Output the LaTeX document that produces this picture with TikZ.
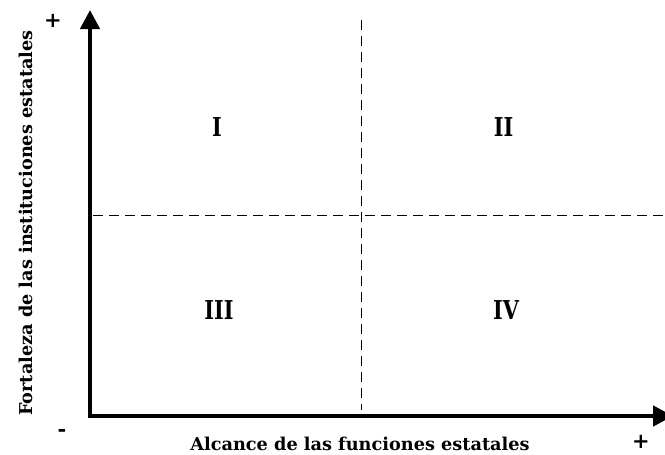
\documentclass[tikz,border=0pt]{standalone}
\usepackage{fontspec}
\setmainfont{DejaVu Serif}
\usetikzlibrary{arrows.meta}
\newcommand{\rmnum}[1]{\scalebox{0.8}[1]{#1}}
\begin{document}
\begin{tikzpicture}[x=1pt,y=-1pt,
  axis/.style={line width=4.4pt,line join=miter,{Triangle[length=19pt,width=19pt]}-{Triangle[length=20pt,width=20pt]}},
  guide/.style={line width=0.9pt,dash pattern=on 10pt off 6pt},
  roman/.style={font=\fontsize{26}{26}\selectfont\bfseries,inner sep=0pt},
  lbl/.style={font=\fontsize{17.7}{17.7}\selectfont\bfseries,inner sep=0pt,anchor=base},
  sign/.style={font=\fontsize{21}{21}\selectfont\bfseries,inner sep=0pt}]
\useasboundingbox (0,0) rectangle (665,455);
\coordinate (ytop) at (90,10);
\coordinate (o) at (90,416);
\coordinate (xend) at (673,416);
\coordinate (vt) at (361,20);
\coordinate (vb) at (361,410);
\coordinate (hl) at (93,215);
\coordinate (hr) at (665,215);
\draw[guide] (vt) -- (vb);
\draw[guide] (hl) -- (hr);
\draw[axis] (ytop) -- (o) -- (xend);
\node[roman] (q1) at (217,127.5) {\rmnum{I}};
\node[roman] (q2) at (503.5,127.5) {\rmnum{II}};
\node[roman] (q3) at (219,310) {\rmnum{III}};
\node[roman] (q4) at (506,310) {\rmnum{IV}};
\node[lbl] (xl) at (360,450) {Alcance de las funciones estatales};
\node[lbl,rotate=90] (yl) at (32,223) {Fortaleza de las instituciones estatales};
\node[sign] (pt) at (53,21) {+};
\node[sign] (mo) at (62,433) {-};
\node[sign] (pr) at (641,442) {+};
\end{tikzpicture}
\end{document}
